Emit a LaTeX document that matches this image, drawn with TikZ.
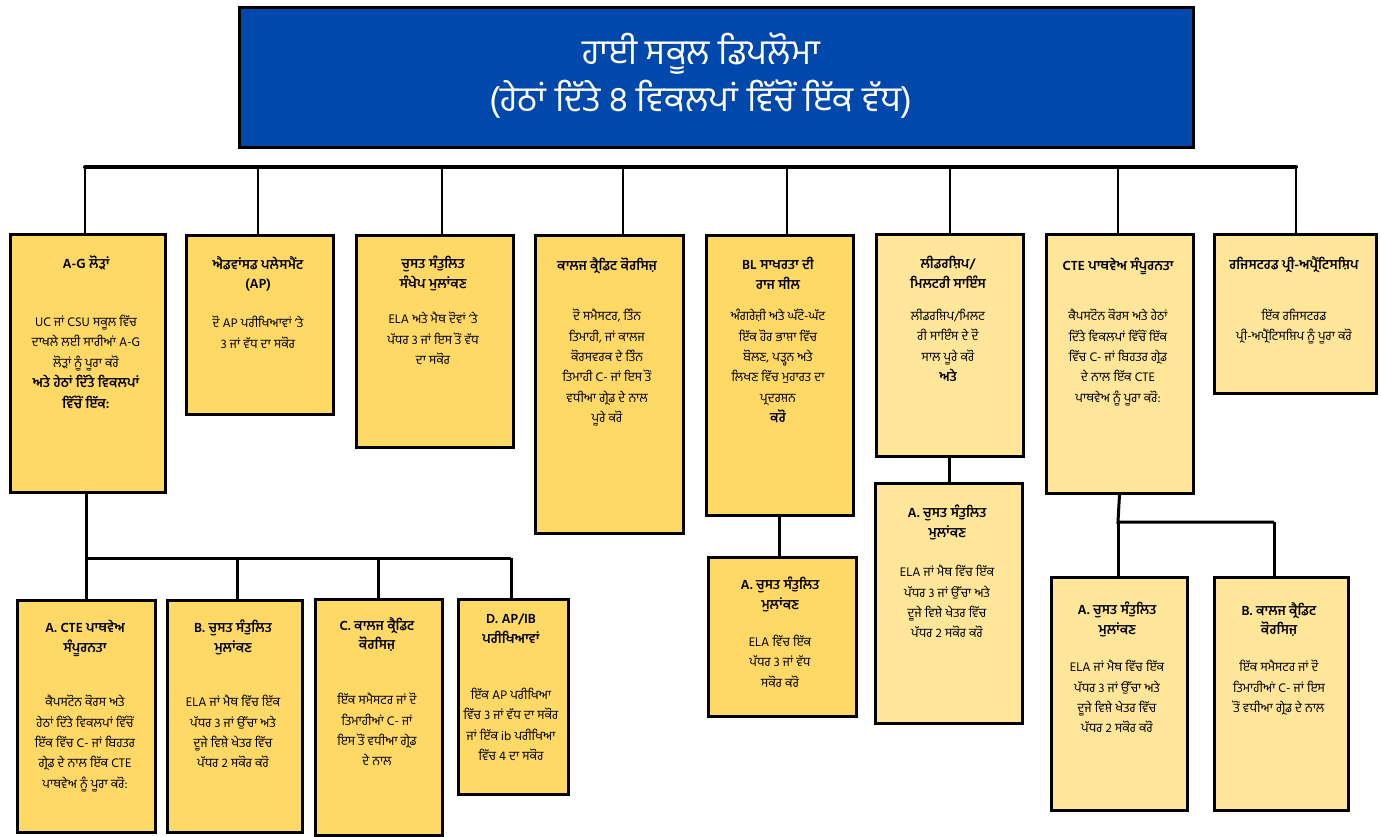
\documentclass[tikz,border=0pt]{standalone}
\usepackage{fontspec}
\setmainfont{Hind Jalandhar}[Script=Gurmukhi]
\definecolor{titleblue}{RGB}{0,72,171}
\definecolor{golddark}{RGB}{255,217,102}
\definecolor{goldlight}{RGB}{255,230,153}
\newcommand\bb[1]{{\fontsize{13.5}{20.4}\selectfont\bfseries #1}}
\newcommand\tightlines{\lineskiplimit=-30pt\relax}
\begin{document}
\begin{tikzpicture}[x=1pt,y=-1pt,
  box/.style={draw=black, line width=3pt, anchor=north west, inner sep=0pt, minimum width=#1},
  dk/.style={fill=golddark},
  lt/.style={fill=goldlight},
  tx/.style={anchor=north, align=center, inner sep=0pt, text=black, yshift=-4pt,
     font=\fontsize{12.7}{20.4}\selectfont, execute at begin node=\strut},
  tt/.style={anchor=north, align=center, inner sep=0pt, text=black, yshift=-4pt,
     font=\fontsize{13.5}{19.5}\selectfont\bfseries, execute at begin node=\strut},
  bus/.style={line width=4pt, line cap=round},
  conn/.style={line width=2.5pt},
  gconn/.style={line width=3pt}]
\useasboundingbox (0,0) rectangle (1381,837);

% title
\node[draw=black, line width=3pt, fill=titleblue, anchor=north west, inner sep=0pt,
  minimum width=954pt, minimum height=140pt] (top) at (237.5,6.5) {};
\node[anchor=north, align=center, inner sep=0pt, text=white,
  font=\fontsize{35}{47}\selectfont\tightlines, execute at begin node=\strut] (toptxt) at (701,33)
  {ਹਾਈ ਸਕੂਲ ਡਿਪਲੋਮਾ\\(ਹੇਠਾਂ ਦਿੱਤੇ 8 ਵਿਕਲਪਾਂ ਵਿੱਚੋਂ ਇੱਕ ਵੱਧ)};

% top row boxes
\node[box=155pt, dk, minimum height=258pt] (n1) at (8.5,232.5) {};
\node[box=147pt, dk, minimum height=179pt] (n2) at (184.5,233.5) {};
\node[box=157pt, dk, minimum height=212pt] (n3) at (354.5,233.5) {};
\node[box=148pt, dk, minimum height=298pt] (n4) at (533.5,233.5) {};
\node[box=147pt, dk, minimum height=280pt] (n5) at (704.5,233.5) {};
\node[box=147pt, lt, minimum height=222pt] (n6) at (874.5,232.5) {};
\node[box=147pt, lt, minimum height=259pt] (n7) at (1044.5,232.5) {};
\node[box=162pt, lt, minimum height=159pt] (n8) at (1212.5,232.5) {};

% children
\node[box=138pt, dk, minimum height=232pt] (a1) at (15.5,598.5) {};
\node[box=135pt, dk, minimum height=232pt] (a2) at (165.5,598.5) {};
\node[box=127pt, dk, minimum height=236pt] (a3) at (313.5,597.5) {};
\node[box=110pt, dk, minimum height=195pt] (a4) at (456.5,597.5) {};
\node[box=148pt, dk, minimum height=159pt] (b1) at (706.5,555.5) {};
\node[box=147pt, lt, minimum height=240pt] (c1) at (873.5,481.5) {};
\node[box=136pt, lt, minimum height=233pt] (d1) at (1049.5,575.5) {};
\node[box=134pt, lt, minimum height=233pt] (d2) at (1212.5,575.5) {};

% texts top row
\node[tt] (n1t) at (86,251) {A-G ਲੋੜਾਂ};
\node[tx] (n1b) at (86,311) {UC ਜਾਂ CSU ਸਕੂਲ ਵਿੱਚ\\ਦਾਖਲੇ ਲਈ ਸਾਰੀਆਂ A-G\\ਲੋੜਾਂ ਨੂੰ ਪੂਰਾ ਕਰੋ\\\bb{ਅਤੇ ਹੇਠਾਂ ਦਿੱਤੇ ਵਿਕਲਪਾਂ}\\\bb{ਵਿੱਚੋਂ ਇੱਕ:}};

\node[tt] (n2t) at (258,252) {ਐਡਵਾਂਸਡ ਪਲੇਸਮੈਂਟ\\(AP)};
\node[tx] (n2b) at (258,312) {ਦੋ AP ਪਰੀਖਿਆਵਾਂ 'ਤੇ\\3 ਜਾਂ ਵੱਧ ਦਾ ਸਕੋਰ};

\node[tt] (n3t) at (433,252) {ਚੁਸਤ ਸੰਤੁਲਿਤ\\ਸੰਖੇਪ ਮੁਲਾਂਕਣ};
\node[tx] (n3b) at (433,308) {ELA ਅਤੇ ਮੈਥ ਦੋਵਾਂ 'ਤੇ\\ਪੱਧਰ 3 ਜਾਂ ਇਸ ਤੋਂ ਵੱਧ\\ਦਾ ਸਕੋਰ};

\node[tt] (n4t) at (607,253) {ਕਾਲਜ ਕ੍ਰੈਡਿਟ ਕੋਰਸਿਜ਼};
\node[tx] (n4b) at (607,305) {ਦੋ ਸਮੈਸਟਰ, ਤਿੰਨ\\ਤਿਮਾਹੀ, ਜਾਂ ਕਾਲਜ\\ਕੋਰਸਵਰਕ ਦੇ ਤਿੰਨ\\ਤਿਮਾਹੀ C- ਜਾਂ ਇਸ ਤੋਂ\\ਵਧੀਆ ਗ੍ਰੇਡ ਦੇ ਨਾਲ\\ਪੂਰੇ ਕਰੋ};

\node[tt] (n5t) at (778,253) {BL ਸਾਖਰਤਾ ਦੀ\\ਰਾਜ ਸੀਲ};
\node[tx] (n5b) at (778,305) {ਅੰਗਰੇਜ਼ੀ ਅਤੇ ਘੱਟੋ-ਘੱਟ\\ਇੱਕ ਹੋਰ ਭਾਸ਼ਾ ਵਿੱਚ\\ਬੋਲਣ, ਪੜ੍ਹਨ ਅਤੇ\\ਲਿਖਣ ਵਿੱਚ ਮੁਹਾਰਤ ਦਾ\\ਪ੍ਰਦਰਸ਼ਨ\\\bb{ਕਰੋ}};

\node[tt] (n6t) at (948,252) {ਲੀਡਰਸ਼ਿਪ/\\ਮਿਲਟਰੀ ਸਾਇੰਸ};
\node[tx] (n6b) at (948,305) {ਲੀਡਰਸ਼ਿਪ/ਮਿਲਟ\\ਰੀ ਸਾਇੰਸ ਦੇ ਦੋ\\ਸਾਲ ਪੂਰੇ ਕਰੋ\\\bb{ਅਤੇ}};

\node[tt] (n7t) at (1118,253) {CTE ਪਾਥਵੇਅ ਸੰਪੂਰਨਤਾ};
\node[tx] (n7b) at (1118,305) {ਕੈਪਸਟੋਨ ਕੋਰਸ ਅਤੇ ਹੇਠਾਂ\\ਦਿੱਤੇ ਵਿਕਲਪਾਂ ਵਿੱਚੋਂ ਇੱਕ\\ਵਿੱਚ C- ਜਾਂ ਬਿਹਤਰ ਗ੍ਰੇਡ\\ਦੇ ਨਾਲ ਇੱਕ CTE\\ਪਾਥਵੇਅ ਨੂੰ ਪੂਰਾ ਕਰੋ:};

\node[tt] (n8t) at (1294,252) {ਰਜਿਸਟਰਡ ਪ੍ਰੀ-ਅਪ੍ਰੈਂਟਿਸਸ਼ਿਪ};
\node[tx] (n8b) at (1294,305) {ਇੱਕ ਰਜਿਸਟਰਡ\\ਪ੍ਰੀ-ਅਪ੍ਰੈਂਟਿਸਸ਼ਿਪ ਨੂੰ ਪੂਰਾ ਕਰੋ};

% texts children
\node[tt] (a1t) at (85,616) {A. CTE ਪਾਥਵੇਅ\\ਸੰਪੂਰਨਤਾ};
\node[tx] (a1b) at (85,691) {ਕੈਪਸਟੋਨ ਕੋਰਸ ਅਤੇ\\ਹੇਠਾਂ ਦਿੱਤੇ ਵਿਕਲਪਾਂ ਵਿੱਚੋਂ\\ਇੱਕ ਵਿੱਚ C- ਜਾਂ ਬਿਹਤਰ\\ਗ੍ਰੇਡ ਦੇ ਨਾਲ ਇੱਕ CTE\\ਪਾਥਵੇਅ ਨੂੰ ਪੂਰਾ ਕਰੋ:};

\node[tt] (a2t) at (233,616) {B. ਚੁਸਤ ਸੰਤੁਲਿਤ\\ਮੁਲਾਂਕਣ};
\node[tx] (a2b) at (233,691) {ELA ਜਾਂ ਮੈਥ ਵਿੱਚ ਇੱਕ\\ਪੱਧਰ 3 ਜਾਂ ਉੱਚਾ ਅਤੇ\\ਦੂਜੇ ਵਿਸ਼ੇ ਖੇਤਰ ਵਿੱਚ\\ਪੱਧਰ 2 ਸਕੋਰ ਕਰੋ};

\node[tt] (a3t) at (377,613) {C. ਕਾਲਜ ਕ੍ਰੈਡਿਟ\\ਕੋਰਸਿਜ਼};
\node[tx] (a3b) at (377,689) {ਇੱਕ ਸਮੈਸਟਰ ਜਾਂ ਦੋ\\ਤਿਮਾਹੀਆਂ C- ਜਾਂ\\ਇਸ ਤੋਂ ਵਧੀਆ ਗ੍ਰੇਡ\\ਦੇ ਨਾਲ};

\node[tt] (a4t) at (511,610) {D. AP/IB\\ਪਰੀਖਿਆਵਾਂ};
\node[tx] (a4b) at (511,684) {ਇੱਕ AP ਪਰੀਖਿਆ\\ਵਿੱਚ 3 ਜਾਂ ਵੱਧ ਦਾ ਸਕੋਰ\\ਜਾਂ ਇੱਕ ib ਪਰੀਖਿਆ\\ਵਿੱਚ 4 ਦਾ ਸਕੋਰ};

\node[tt] (b1t) at (780,573) {A. ਚੁਸਤ ਸੰਤੁਲਿਤ\\ਮੁਲਾਂਕਣ};
\node[tx] (b1b) at (780,631) {ELA ਵਿੱਚ ਇੱਕ\\ਪੱਧਰ 3 ਜਾਂ ਵੱਧ\\ਸਕੋਰ ਕਰੋ};

\node[tt] (c1t) at (947,501) {A. ਚੁਸਤ ਸੰਤੁਲਿਤ\\ਮੁਲਾਂਕਣ};
\node[tx] (c1b) at (947,561) {ELA ਜਾਂ ਮੈਥ ਵਿੱਚ ਇੱਕ\\ਪੱਧਰ 3 ਜਾਂ ਉੱਚਾ ਅਤੇ\\ਦੂਜੇ ਵਿਸ਼ੇ ਖੇਤਰ ਵਿੱਚ\\ਪੱਧਰ 2 ਸਕੋਰ ਕਰੋ};

\node[tt] (d1t) at (1117,598) {A. ਚੁਸਤ ਸੰਤੁਲਿਤ\\ਮੁਲਾਂਕਣ};
\node[tx] (d1b) at (1117,656) {ELA ਜਾਂ ਮੈਥ ਵਿੱਚ ਇੱਕ\\ਪੱਧਰ 3 ਜਾਂ ਉੱਚਾ ਅਤੇ\\ਦੂਜੇ ਵਿਸ਼ੇ ਖੇਤਰ ਵਿੱਚ\\ਪੱਧਰ 2 ਸਕੋਰ ਕਰੋ};

\node[tt] (d2t) at (1279,598) {B. ਕਾਲਜ ਕ੍ਰੈਡਿਟ\\ਕੋਰਸਿਜ਼};
\node[tx] (d2b) at (1279,656) {ਇੱਕ ਸਮੈਸਟਰ ਜਾਂ ਦੋ\\ਤਿਮਾਹੀਆਂ C- ਜਾਂ ਇਸ\\ਤੋਂ ਵਧੀਆ ਗ੍ਰੇਡ ਦੇ ਨਾਲ};

% main bus
\coordinate (p1) at (85,167);
\coordinate (p2) at (258,167);
\coordinate (p3) at (442,167);
\coordinate (p4) at (623,167);
\coordinate (p5) at (787,167);
\coordinate (p6) at (950,167);
\coordinate (p7) at (1118,167);
\coordinate (p8) at (1296,167);
\draw[bus] (p1) -- (p8);
\foreach \i in {1,...,8} {\draw[conn] (p\i) -- (p\i |- n\i.north);}

% A-G group
\coordinate (q1) at (86,558);
\coordinate (q2) at (237,558);
\coordinate (q3) at (378,558);
\coordinate (q4) at (511,558);
\draw[gconn] (n1.south -| q1) -- (q1) -- (q4);
\draw[gconn] (q1) -- (q1 |- a1.north);
\draw[gconn] (q2) -- (q2 |- a2.north);
\draw[gconn] (q3) -- (q3 |- a3.north);
\draw[gconn] (q4) -- (q4 |- a4.north);

% BL and leadership
\draw[gconn] (n5.south) -- (n5.south |- b1.north);
\draw[gconn] (n6.south) -- (n6.south |- c1.north);

% CTE group
\coordinate (r1) at (1118,522);
\coordinate (r2) at (1274,522);
\draw[gconn] (n7.south) -- (r1) -- (r2);
\draw[gconn] (r1) -- (r1 |- d1.north);
\draw[gconn] (r2) -- (r2 |- d2.north);
\end{tikzpicture}
\end{document}
